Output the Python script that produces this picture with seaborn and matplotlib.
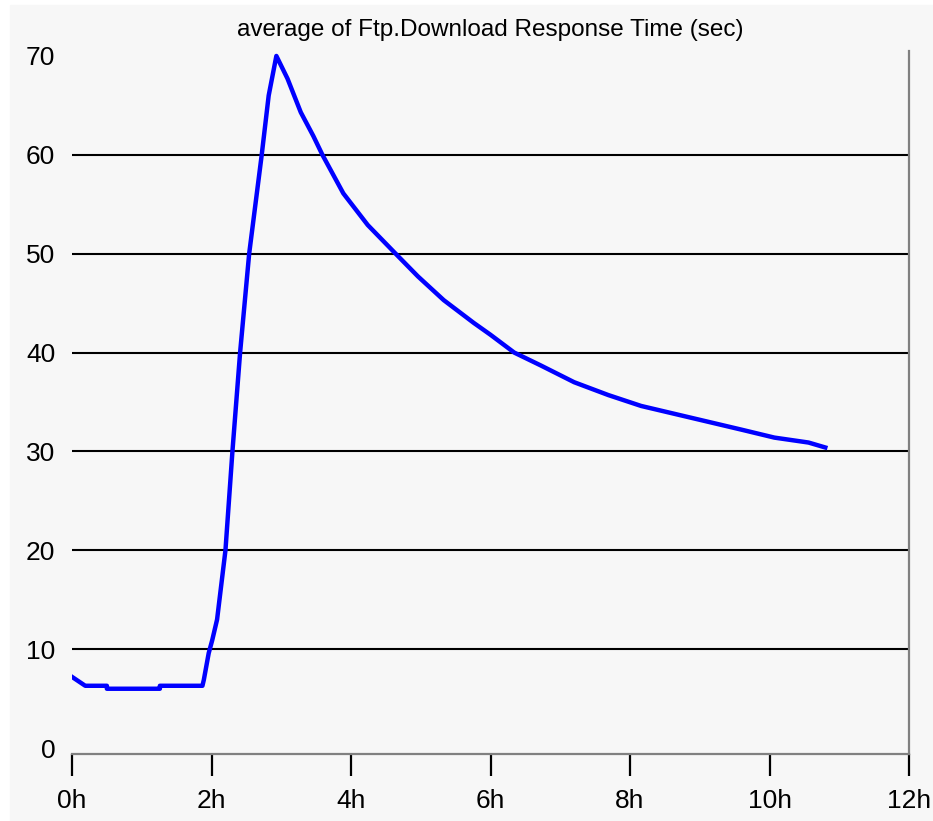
import pandas as pd
import numpy as np
import matplotlib.pyplot as plt
import seaborn as sns
from matplotlib.patches import Rectangle

# data (hours, seconds)
hours = [0.0, 0.19, 0.5, 0.5, 1.26, 1.26, 1.87, 1.89, 1.96, 2.01, 2.08, 2.2, 2.3,
         2.41, 2.54, 2.63, 2.72, 2.82, 2.93, 3.09, 3.28, 3.46, 3.59, 3.89,
         4.24, 4.64, 4.96, 5.33, 5.76, 6.0, 6.34, 6.72, 7.2, 7.69, 8.16, 8.64,
         9.12, 9.6, 10.07, 10.56, 10.8]
resp_time = [7.2, 6.3, 6.3, 6.0, 6.0, 6.3, 6.3, 6.9, 9.6, 10.9, 13.0, 20.0, 30.0,
             40.0, 50.0, 55.0, 60.0, 66.0, 70.0, 67.7, 64.3, 61.9, 60.0, 56.1,
             52.9, 50.0, 47.7, 45.3, 43.0, 41.8, 40.0, 38.7, 37.0, 35.7, 34.6, 33.8,
             33.0, 32.2, 31.4, 30.9, 30.4]
xticks = [0, 2, 4, 6, 8, 10, 12]
xlabels = ['0h', '2h', '4h', '6h', '8h', '10h', '12h']
yticks = [0, 10, 20, 30, 40, 50, 60, 70]

df = pd.DataFrame({'Hours': hours, 'Response': resp_time})

plt.rcParams['font.family'] = ['Liberation Sans', 'DejaVu Sans']

fig = plt.figure(figsize=(9.33, 8.21), dpi=100, facecolor='white')
fig.patches.append(Rectangle((10 / 933, 0), 1, 1 - 5 / 821, transform=fig.transFigure,
                             color='#f7f7f7', zorder=-10))
ax = fig.add_axes([72 / 933, 1 - 754 / 821, (909 - 72) / 933, (754 - 51) / 821])
ax.set_facecolor('#f7f7f7')

# horizontal grid lines
for v in yticks[1:-1]:
    ax.axhline(v, color='black', lw=1.5, zorder=1)

sns.lineplot(data=df, x='Hours', y='Response', color='#0000ff', lw=3.2, ax=ax,
             zorder=3, estimator=None, sort=False)

ax.set_xlim(0, 12)
ax.set_ylim(-0.6, 70.5)
ax.set_xticks(xticks)
ax.set_xticklabels(xlabels)
ax.set_yticks(yticks)
ax.tick_params(axis='x', length=16, width=1.6, color='black', pad=9, labelsize=19)
ax.tick_params(axis='y', length=0, pad=12, labelsize=19)
ax.set_xlabel('')
ax.set_ylabel('')

ax.spines['left'].set_visible(False)
ax.spines['top'].set_visible(False)
ax.spines['bottom'].set_color('#808080')
ax.spines['bottom'].set_linewidth(1.6)
ax.spines['right'].set_color('#808080')
ax.spines['right'].set_linewidth(1.6)

ax.set_title('average of Ftp.Download Response Time (sec)', fontsize=17.5, pad=11)

plt.savefig('out.png', dpi=100, facecolor=fig.get_facecolor())
